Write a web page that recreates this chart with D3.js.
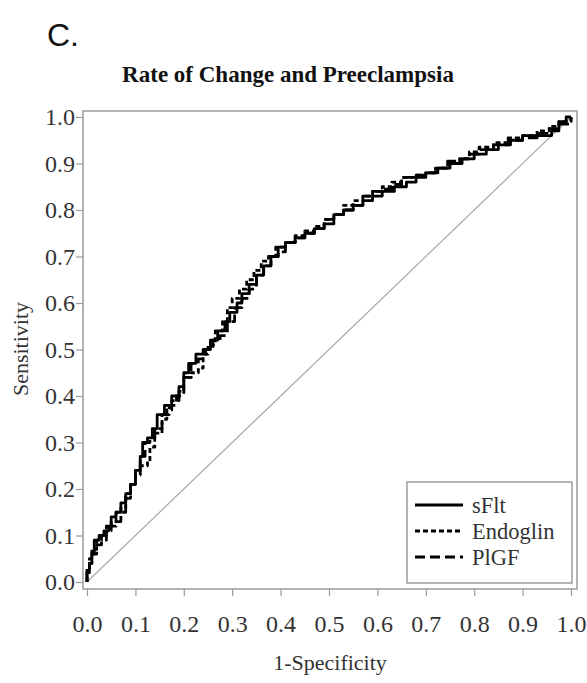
<!DOCTYPE html>
<html>
<head>
<meta charset="utf-8">
<script src="https://cdn.jsdelivr.net/npm/d3@7"></script>
<style>
  html, body { margin: 0; padding: 0; background: #fff; }
  svg { display: block; }
</style>
</head>
<body>
<svg id="chart" width="587" height="683"></svg>
<script>
// ---------------- DATA ----------------
const panelLabel = "C.";
const chartTitle = "Rate of Change and Preeclampsia";
const xAxisTitle = "1-Specificity";
const yAxisTitle = "Sensitivity";
const tickValues = [0, 0.1, 0.2, 0.3, 0.4, 0.5, 0.6, 0.7, 0.8, 0.9, 1.0];
const seriesNames = ["sFlt", "Endoglin", "PlGF"];

// [1-specificity, sensitivity] (empirical ROC steps)
const sFlt = [[0,0],[0,.02],[.005,.04],[.01,.06],[.015,.09],[.025,.10],[.035,.11],[.045,.12],[.05,.14],
  [.06,.15],[.07,.17],[.08,.19],[.09,.21],[.1,.24],[.11,.27],[.115,.30],[.125,.31],[.135,.33],[.145,.36],
  [.16,.38],[.175,.40],[.19,.42],[.2,.45],[.21,.47],[.225,.49],[.24,.50],[.255,.52],[.27,.54],[.285,.56],
  [.295,.58],[.31,.60],[.32,.62],[.335,.64],[.35,.66],[.365,.68],[.38,.70],[.395,.72],[.41,.73],[.43,.74],
  [.45,.75],[.47,.76],[.49,.77],[.51,.79],[.53,.80],[.55,.81],[.57,.82],[.59,.83],[.61,.84],[.635,.85],
  [.66,.86],[.68,.87],[.70,.88],[.725,.89],[.75,.90],[.775,.91],[.80,.92],[.825,.93],[.85,.94],[.875,.95],
  [.90,.96],[.96,.97],[.975,.99],[.99,1],[1,1]];
const endoglin = [[0,0],[0,.03],[.005,.05],[.01,.07],[.02,.09],[.03,.10],[.04,.12],[.05,.13],[.06,.15],
  [.07,.16],[.08,.19],[.09,.21],[.1,.23],[.11,.25],[.125,.26],[.13,.29],[.14,.32],[.155,.35],[.165,.37],
  [.175,.39],[.19,.41],[.2,.44],[.215,.45],[.23,.46],[.24,.49],[.25,.51],[.265,.54],[.28,.56],[.29,.59],
  [.30,.61],[.315,.63],[.33,.65],[.345,.67],[.36,.69],[.375,.70],[.39,.72],[.41,.73],[.43,.745],[.45,.755],
  [.47,.765],[.49,.78],[.51,.79],[.53,.81],[.55,.82],[.57,.83],[.59,.84],[.61,.85],[.63,.86],[.65,.87],
  [.68,.875],[.70,.88],[.72,.89],[.745,.90],[.77,.91],[.79,.925],[.81,.935],[.84,.945],[.87,.955],
  [.90,.96],[.93,.97],[.955,.98],[.975,.99],[1,1]];
const plgf = [[0,0],[0,.02],[.005,.04],[.01,.06],[.02,.08],[.03,.09],[.04,.11],[.05,.12],[.06,.13],
  [.07,.15],[.08,.18],[.09,.21],[.1,.24],[.11,.27],[.12,.30],[.13,.31],[.14,.33],[.155,.36],[.17,.38],
  [.185,.40],[.2,.44],[.215,.47],[.23,.48],[.245,.50],[.26,.52],[.275,.53],[.29,.56],[.305,.59],[.32,.61],
  [.335,.63],[.35,.66],[.365,.68],[.38,.70],[.395,.71],[.41,.73],[.43,.74],[.45,.75],[.47,.76],[.49,.78],
  [.51,.79],[.53,.80],[.55,.81],[.57,.83],[.59,.84],[.61,.845],[.63,.855],[.65,.87],[.68,.875],[.70,.88],
  [.72,.89],[.745,.905],[.77,.91],[.79,.92],[.81,.93],[.84,.94],[.87,.95],[.90,.955],[.93,.965],
  [.955,.975],[.975,.985],[1,1]];
const reference = [[0,0],[1,1]];

// ---------------- LAYOUT ----------------
const svg = d3.select("#chart");
const frame = { left: 83, right: 577, top: 111, bottom: 589 };
const x = d3.scaleLinear().domain([0, 1]).range([87, 571]);
const y = d3.scaleLinear().domain([0, 1]).range([582, 117]);
const serif = "'Liberation Serif', 'Times New Roman', serif";
const axisGray = "#9a9a9a";
const textCol = "#333";

// panel label
svg.append("text").attr("x", 47).attr("y", 46)
  .attr("font-family", "'Liberation Sans', Arial, sans-serif").attr("font-size", 32)
  .attr("fill", "#111").text(panelLabel);

// title
svg.append("text").attr("x", 288).attr("y", 82).attr("text-anchor", "middle")
  .attr("font-family", serif).attr("font-weight", "bold").attr("font-size", 23)
  .attr("fill", "#111").text(chartTitle);

// frame
svg.append("rect").attr("x", frame.left).attr("y", frame.top)
  .attr("width", frame.right - frame.left).attr("height", frame.bottom - frame.top)
  .attr("fill", "none").attr("stroke", axisGray).attr("stroke-width", 1.5);

// axes
const xAxis = svg.append("g").attr("transform", `translate(0,${frame.bottom})`)
  .call(d3.axisBottom(x).tickValues(tickValues).tickFormat(d3.format(".1f")).tickSize(7));
const yAxis = svg.append("g").attr("transform", `translate(${frame.left},0)`)
  .call(d3.axisLeft(y).tickValues(tickValues).tickFormat(d3.format(".1f")).tickSize(7).tickPadding(1));
[xAxis, yAxis].forEach(g => {
  g.select(".domain").remove();
  g.selectAll(".tick line").attr("stroke", axisGray).attr("stroke-width", 1.2);
  g.selectAll(".tick text").attr("font-family", serif).attr("font-size", 24).attr("fill", textCol);
});
xAxis.selectAll(".tick text").attr("y", 43).attr("dy", null);

// axis titles
svg.append("text").attr("x", 330).attr("y", 670).attr("text-anchor", "middle")
  .attr("font-family", serif).attr("font-size", 22).attr("fill", textCol).text(xAxisTitle);
svg.append("text").attr("transform", "translate(28,349) rotate(-90)").attr("text-anchor", "middle")
  .attr("font-family", serif).attr("font-size", 22).attr("fill", textCol).text(yAxisTitle);

// lines
const lineLin = d3.line().x(d => x(d[0])).y(d => y(d[1]));
const lineStep = d3.line().x(d => x(d[0])).y(d => y(d[1])).curve(d3.curveStepAfter);
svg.append("path").datum(reference).attr("d", lineLin)
  .attr("fill", "none").attr("stroke", "#a8a8a8").attr("stroke-width", 1.2);

const styles = [
  { data: sFlt, dash: null },
  { data: endoglin, dash: "5,3" },
  { data: plgf, dash: "10,5" }
];
styles.forEach(s => {
  svg.append("path").datum(s.data).attr("d", lineStep)
    .attr("fill", "none").attr("stroke", "#000").attr("stroke-width", 2.8)
    .attr("stroke-linejoin", "round")
    .attr("stroke-dasharray", s.dash);
});

// legend
const lg = svg.append("g");
lg.append("rect").attr("x", 407).attr("y", 482).attr("width", 165).attr("height", 101)
  .attr("fill", "#fff").attr("stroke", axisGray).attr("stroke-width", 1.5);
seriesNames.forEach((name, i) => {
  const yy = 505 + i * 26;
  lg.append("line").attr("x1", 415).attr("x2", 463).attr("y1", yy).attr("y2", yy)
    .attr("stroke", "#000").attr("stroke-width", 2.8)
    .attr("stroke-dasharray", styles[i].dash);
  lg.append("text").attr("x", 472).attr("y", yy + 8)
    .attr("font-family", serif).attr("font-size", 22.5).attr("fill", textCol).text(name);
});
</script>
</body>
</html>
